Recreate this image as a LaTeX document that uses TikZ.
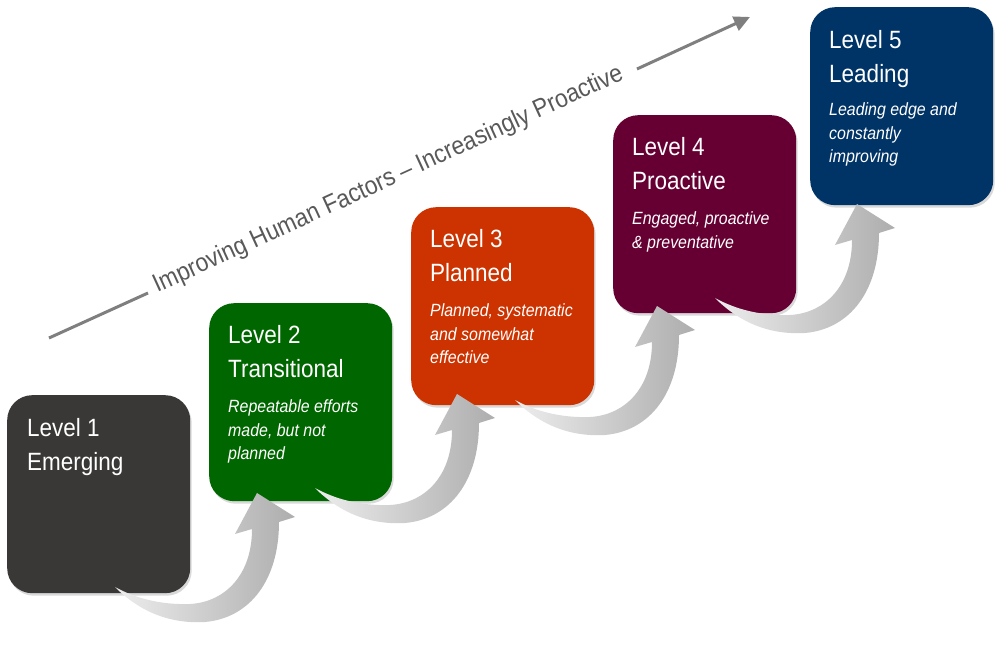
\documentclass[tikz,border=0pt]{standalone}
\usepackage{fontspec}
\setmainfont{Liberation Sans}[FakeStretch=0.9]
\usetikzlibrary{arrows.meta,shadows,calc}
\definecolor{cA}{HTML}{393837}
\definecolor{cB}{HTML}{006600}
\definecolor{cC}{HTML}{CC3300}
\definecolor{cD}{HTML}{660033}
\definecolor{cE}{HTML}{003366}
\definecolor{lineg}{HTML}{7F7F7F}
\definecolor{textg}{HTML}{595959}
\newcommand\curvedup[1]{%
  \begin{scope}[shift={(#1)}]
    \path[arrowfill] (0,0) .. controls (25,-25) and (55,-37) .. (90,-35)
      .. controls (135,-31) and (164,7) .. (164,65) -- (180,70) -- (142,94)
      -- (120,53) -- (137,58) .. controls (137,12) and (110,-15) .. (75,-17)
      .. controls (45,-18) and (20,-11) .. cycle;
  \end{scope}}
\begin{document}
\begin{tikzpicture}[x=1pt,y=1pt,
  lvlbox/.style={rectangle, rounded corners=25pt, minimum width=183pt,
    minimum height=198pt, inner sep=0pt, anchor=north west, draw=none,
    drop shadow={shadow xshift=1.5pt,shadow yshift=-2.5pt,opacity=0.3}},
  ttl/.style={anchor=base west, inner sep=0pt, text=white,
    font=\fontsize{25}{34}\selectfont},
  sub/.style={anchor=base west, inner sep=0pt, text=white,
    font=\fontsize{17.7}{23.5}\selectfont\itshape},
  arrowfill/.style={left color=black!7, right color=black!32, draw=none},
  topline/.style={draw=lineg, line width=3pt},
  toptext/.style={text=textg, inner sep=0pt, font=\fontsize{25.5}{30}\selectfont}
]
\useasboundingbox (0,0) rectangle (1000,658);

% boxes
\node[lvlbox, fill=cA] (b1) at (7,263) {};
\node[lvlbox, fill=cB] (b2) at (209,355) {};
\node[lvlbox, fill=cC] (b3) at (411,451) {};
\node[lvlbox, fill=cD] (b4) at (613,543) {};
\node[lvlbox, fill=cE] (b5) at (810,651) {};

% titles
\node[ttl] (t1) at ($(b1.north west)+(20,-41.5)$) {\parbox[t]{170pt}{Level 1\\Emerging}};
\node[ttl] (t2) at ($(b2.north west)+(19,-41)$) {\parbox[t]{170pt}{Level 2\\Transitional}};
\node[ttl] (t3) at ($(b3.north west)+(19,-41)$) {\parbox[t]{170pt}{Level 3\\Planned}};
\node[ttl] (t4) at ($(b4.north west)+(19,-41)$) {\parbox[t]{170pt}{Level 4\\Proactive}};
\node[ttl] (t5) at ($(b5.north west)+(19,-41.5)$) {\parbox[t]{170pt}{Level 5\\Leading}};

% descriptions
\node[sub] (d2) at ($(b2.north west)+(19,-110)$) {\parbox[t]{170pt}{Repeatable efforts\\made, but not\\planned}};
\node[sub] (d3) at ($(b3.north west)+(19,-110)$) {\parbox[t]{170pt}{Planned, systematic\\and somewhat\\effective}};
\node[sub] (d4) at ($(b4.north west)+(19,-110)$) {\parbox[t]{170pt}{Engaged, proactive\\\& preventative}};
\node[sub] (d5) at ($(b5.north west)+(19,-109)$) {\parbox[t]{170pt}{Leading edge and\\constantly\\improving}};

% curved arrows between levels
\coordinate (a1) at (115,71);
\coordinate (a2) at (315,170);
\coordinate (a3) at (515,258);
\coordinate (a4) at (715,360);
\curvedup{a1}
\curvedup{a2}
\curvedup{a3}
\curvedup{a4}

% top trend arrow
\coordinate (s0) at (49,320);
\coordinate (s1) at (148,365);
\coordinate (s2) at (637,589);
\coordinate (s3) at (750,641);
\draw[topline] (s0) -- (s1);
\draw[topline, -{Triangle[length=16pt,width=15pt]}] (s2) -- (s3);
\node[toptext, rotate=24.6, anchor=base] (ht) at (391,472) {Improving Human Factors – Increasingly Proactive};
\end{tikzpicture}
\end{document}
